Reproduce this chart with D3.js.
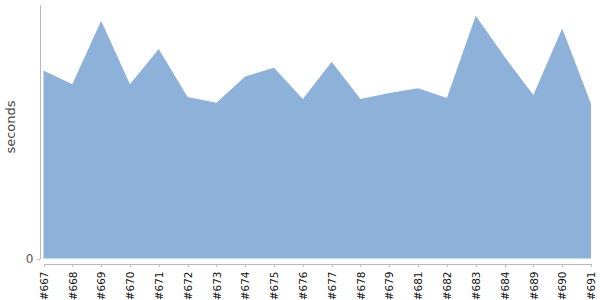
<!DOCTYPE html>
<html>
<head>
<meta charset="utf-8">
<script src="https://cdn.jsdelivr.net/npm/d3@7"></script>
<style>
  body { margin: 0; background: #fff; }
  svg, svg text { font-family: 'DejaVu Sans', Verdana, sans-serif; }
  svg { display: block; }
  .axis path, .axis line { stroke: #bbb; shape-rendering: crispEdges; }
</style>
</head>
<body>
<div id="chart"></div>
<script>
// build numbers (no #680 in the run)
const builds = ['#667', '#668', '#669', '#670', '#671', '#672', '#673', '#674', '#675', '#676',
  '#677', '#678', '#679', '#681', '#682', '#683', '#684', '#689', '#690', '#691']
// duration in seconds
const seconds = [192, 178, 243, 178, 214, 165, 159, 186, 195, 163,
  201, 163, 169, 174, 164, 248, 206, 167, 235, 158]
const yTicks = [0]

const width = 600,
  height = 300

const data = builds.map((b, i) => ({ build: b, value: seconds[i] }))

const xScale = d3
  .scalePoint()
  .domain(builds)
  .range([43.5, 591])

const yScale = d3
  .scaleLinear()
  .domain([0, 260])
  .range([258.5, 4])

const area = d3
  .area()
  .x(d => xScale(d.build))
  .y0(yScale(0))
  .y1(d => yScale(d.value))

const svg = d3
  .select('#chart')
  .append('svg')
  .attr('width', width)
  .attr('height', height)

svg
  .append('path')
  .datum(data)
  .attr('fill', '#8eb1da')
  .attr('d', area)

// y-axis
const yAxis = svg
  .append('g')
  .attr('class', 'axis')
  .attr('transform', 'translate(39.5,0)')
  .call(d3.axisLeft(yScale).tickValues(yTicks).tickSize(3).tickSizeOuter(0))
  .attr('font-family', null)

yAxis.selectAll('text')
  .attr('fill', '#555')
  .style('font-size', '12px')

// x-axis
const xAxis = svg
  .append('g')
  .attr('class', 'axis')
  .attr('transform', 'translate(0,263.5)')
  .call(d3.axisBottom(xScale).tickSize(3).tickSizeOuter(0))
  .attr('font-family', null)

xAxis.selectAll('text')
  .attr('fill', '#111')
  .style('font-size', '10.5px')
  .attr('transform', 'rotate(-90)')
  .attr('text-anchor', 'end')
  .attr('x', -8)
  .attr('y', 0)
  .attr('dy', '0.35em')

svg
  .append('text')
  .attr('transform', 'translate(15,127) rotate(-90)')
  .attr('text-anchor', 'middle')
  .attr('fill', '#444')
  .style('font-size', '13px')
  .text('seconds')
</script>
</body>
</html>
